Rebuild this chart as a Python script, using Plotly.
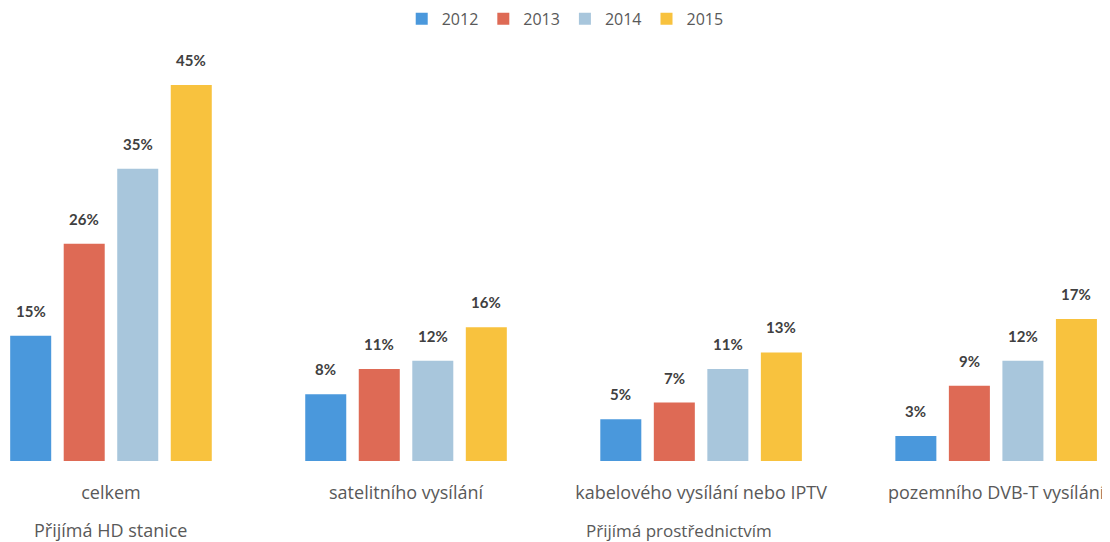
import plotly.graph_objects as go

categories = ["celkem", "satelitního vysílání", "kabelového vysílání nebo IPTV", "pozemního DVB-T vysílání"]
group_labels = ["Přijímá HD stanice", "Přijímá prostřednictvím"]
years = ["2012", "2013", "2014", "2015"]
v2012 = [15, 8, 5, 3]
v2013 = [26, 11, 7, 9]
v2014 = [35, 12, 11, 12]
v2015 = [45, 16, 13, 17]
colors = ["#4a98dc", "#de6a55", "#a8c6dc", "#f8c23e"]

series = [v2012, v2013, v2014, v2015]

# bar geometry (category units)
slot = 0.1814
bar_w = 0.139
gap = slot - bar_w
first_left = -(len(series) * slot - gap) / 2

fig = go.Figure()
for i, (name, vals, col) in enumerate(zip(years, series, colors)):
    off = first_left + i * slot
    fig.add_trace(go.Bar(
        x=categories, y=vals, name=name,
        width=bar_w, offset=off,
        marker=dict(color=col, line=dict(width=0)),
    ))
    for j, v in enumerate(vals):
        fig.add_annotation(
            x=j + off + bar_w / 2, y=v, xref="x", yref="y",
            text=f"{v}%", showarrow=False, yanchor="bottom", yshift=14,
            font=dict(family="Lato", size=15, color="#404040", weight="bold"),
        )

fig.update_layout(
    width=1110, height=542,
    margin=dict(l=0, r=0, t=32, b=89, autoexpand=False),
    paper_bgcolor="white", plot_bgcolor="white",
    barmode="overlay",
    font=dict(family="Open Sans", color="#595959"),
    legend=dict(orientation="h", x=0.502, xanchor="center", y=1.05, yanchor="middle",
                font=dict(size=16, color="#595959"), traceorder="normal"),
    xaxis=dict(range=[-0.349, 3.413], showgrid=False, showline=False, zeroline=False,
               ticks="", ticklabelstandoff=19, tickfont=dict(size=18, color="#595959")),
    yaxis=dict(range=[0, 50.4], visible=False),
)

fig.add_annotation(x=categories[0], y=0, yref="y", text=group_labels[0], showarrow=False,
                   yanchor="middle", yshift=-69, xshift=0, font=dict(size=18, color="#595959"))
fig.add_annotation(x=categories[2], y=0, yref="y", text=group_labels[1], showarrow=False,
                   yanchor="middle", yshift=-69, xshift=-22, font=dict(size=17, color="#595959"))

fig.write_html("out.html")
